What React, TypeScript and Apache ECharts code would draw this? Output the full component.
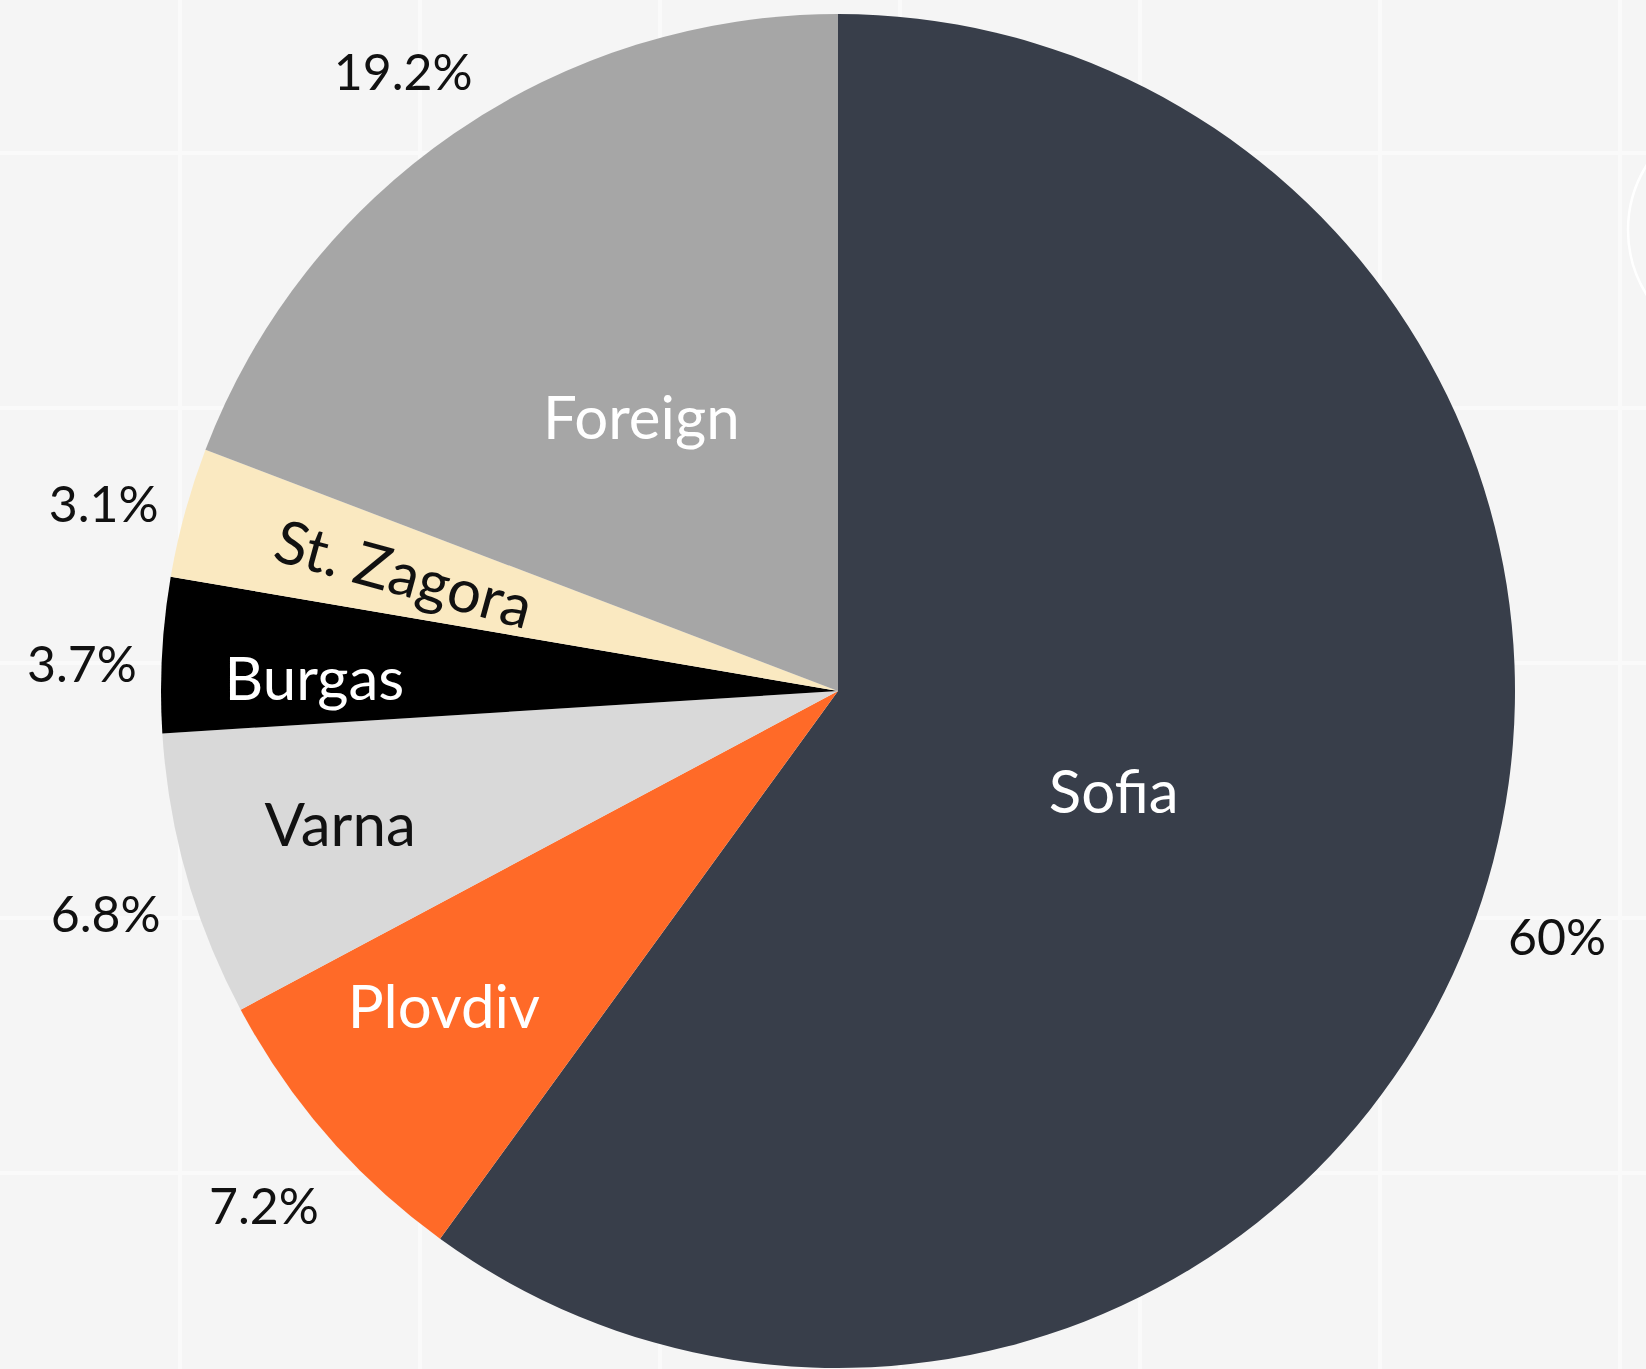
import React, { useEffect, useRef } from "react";
import * as echarts from "echarts";

// ---- data ----
const categories = ["Sofia", "Plovdiv", "Varna", "Burgas", "St. Zagora", "Foreign"];
const shares = [60, 7.2, 6.8, 3.7, 3.1, 19.2];
const percentLabels = ["60%", "7.2%", "6.8%", "3.7%", "3.1%", "19.2%"];

// ---- styles / layout ----
const sliceColors = ["#383e4a", "#ff6a28", "#d9d9d9", "#000000", "#fae9c1", "#a6a6a6"];
const nameColors = ["#ffffff", "#ffffff", "#111111", "#ffffff", "#111111", "#ffffff"];
const nameRadiusFrac = [0.43, 0.75, 0.76, 0.77, 0.67, 0.5];
const nameRotate: (string | number)[] = [0, 0, 0, 0, "radial", 0];
const nameOffset: [number, number][] = [[-4, 8], [-9, -21], [0, -9], [0, 14], [7, 0], [-3, 6]];
const percentRadiusFrac = 1.12;
const percentOffset: [number, number][] = [[-5, 10], [0, 14], [0, 14], [4, 13], [0, 13], [-3, 7]];

const W = 1646;
const H = 1369;
const CX = 838;
const CY = 691;
const R = 677;
const FONT = "Lato, 'Source Sans Pro', 'Noto Sans', sans-serif";

function ringFor(f: number): [number, number] {
  if (f <= 0.5) return [0, 2 * f * R];
  if (f <= 1) return [(2 * f - 1) * R, R];
  return [R, (2 * f - 1) * R];
}

function labelSeries(
  idx: number,
  f: number,
  text: string,
  color: string,
  size: number,
  rotate: string | number,
  offset: [number, number]
) {
  return {
    type: "pie",
    silent: true,
    center: [CX, CY],
    radius: ringFor(f),
    startAngle: 90,
    clockwise: true,
    avoidLabelOverlap: false,
    labelLine: { show: false },
    emphasis: { disabled: true },
    itemStyle: { color: "rgba(0,0,0,0)", borderWidth: 0 },
    z: 5,
    data: categories.map((name, i) => ({
      name,
      value: shares[i],
      label: {
        show: i === idx,
        position: "inside",
        formatter: text,
        color,
        fontSize: size,
        fontFamily: FONT,
        rotate,
        offset,
      },
    })),
  };
}

export default function App() {
  const ref = useRef<HTMLDivElement>(null);

  useEffect(() => {
    if (!ref.current) return;
    const chart = echarts.init(ref.current, undefined, { renderer: "svg" });

    const graphics: any[] = [];
    for (let x = 180; x < W; x += 240) {
      graphics.push({
        type: "line",
        z: 0,
        silent: true,
        shape: { x1: x, y1: 0, x2: x, y2: H },
        style: { stroke: "#fafafa", lineWidth: 4 },
      });
    }
    for (let y = 153; y < H; y += 255) {
      graphics.push({
        type: "line",
        z: 0,
        silent: true,
        shape: { x1: 0, y1: y, x2: W, y2: y },
        style: { stroke: "#fafafa", lineWidth: 4 },
      });
    }
    graphics.push({
      type: "circle",
      z: 0,
      silent: true,
      shape: { cx: 1750, cy: 230, r: 122 },
      style: { fill: "none", stroke: "#ffffff", lineWidth: 2.5 },
    });

    const series: any[] = [
      {
        type: "pie",
        silent: true,
        center: [CX, CY],
        radius: [0, R],
        startAngle: 90,
        clockwise: true,
        label: { show: false },
        labelLine: { show: false },
        emphasis: { disabled: true },
        z: 2,
        data: categories.map((name, i) => ({
          name,
          value: shares[i],
          itemStyle: { color: sliceColors[i], borderWidth: 0 },
        })),
      },
    ];
    categories.forEach((name, i) => {
      series.push(
        labelSeries(i, nameRadiusFrac[i], name, nameColors[i], 60, nameRotate[i], nameOffset[i])
      );
      series.push(
        labelSeries(i, percentRadiusFrac, percentLabels[i], "#111111", 50, 0, percentOffset[i])
      );
    });

    chart.setOption({
      animation: false,
      backgroundColor: "#f5f5f5",
      graphic: { elements: graphics },
      series,
    });

    return () => chart.dispose();
  }, []);

  return (
    <div
      ref={ref}
      style={{ position: "absolute", left: 0, top: 0, width: W, height: H }}
    />
  );
}
